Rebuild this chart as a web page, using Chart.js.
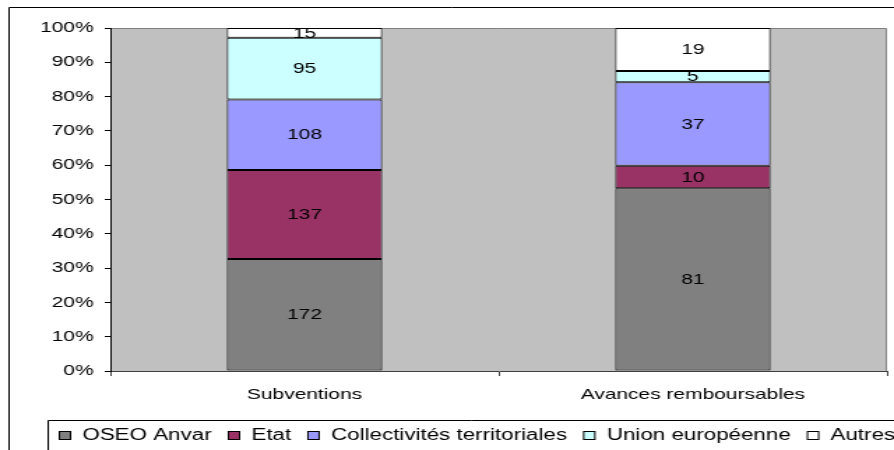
<!DOCTYPE html>
<html><head><meta charset="utf-8">
<script src="https://cdn.jsdelivr.net/npm/chart.js@4"></script>
<style>
html,body{margin:0;padding:0;background:#fff;overflow:hidden}
#wrap{width:640px;height:450px;transform:scaleX(1.396875);transform-origin:0 0;}
canvas{display:block}
</style></head><body>
<div id="wrap"><canvas id="c" width="640" height="450" style="width:640px;height:450px"></canvas></div>
<script>
// ---- data ----
const categories = ['Subventions', 'Avances remboursables'];
const seriesNames = ['OSEO Anvar', 'Etat', 'Collectivités territoriales', 'Union européenne', 'Autres'];
const oseoAnvar = [172, 81];
const etat = [137, 10];
const collectivites = [108, 37];
const unionEuropeenne = [95, 5];
const autres = [15, 19];
const yTickValues = [0, 10, 20, 30, 40, 50, 60, 70, 80, 90, 100];

// ---- styles ----
const seriesColors = ['#808080', '#993366', '#9999FF', '#CCFFFF', '#FFFFFF'];
const FONT = '"Liberation Sans", Arial, sans-serif';

const seriesValues = [oseoAnvar, etat, collectivites, unionEuropeenne, autres];
const totals = categories.map((_, j) => seriesValues.reduce((s, arr) => s + arr[j], 0));

const datasets = seriesValues.map((arr, i) => ({
  label: seriesNames[i],
  data: arr.map((v, j) => v / totals[j] * 100),
  counts: arr,
  backgroundColor: seriesColors[i],
  borderColor: '#000',
  borderWidth: 1,
  borderSkipped: false,
  categoryPercentage: 1,
  barPercentage: 0.4
}));

const framePlugin = {
  id: 'frame',
  beforeDraw(chart) {
    const ctx = chart.ctx, a = chart.chartArea;
    ctx.save();
    ctx.fillStyle = '#fff';
    ctx.fillRect(0, 0, chart.width, chart.height);
    // outer chart border
    ctx.strokeStyle = '#000';
    ctx.lineWidth = 1;
    ctx.beginPath();
    ctx.moveTo(6.5, 460); ctx.lineTo(6.5, 7.5); ctx.lineTo(660, 7.5);
    ctx.stroke();
    // plot area
    ctx.fillStyle = '#C0C0C0';
    ctx.fillRect(a.left, a.top, a.right - a.left, a.bottom - a.top);
    ctx.strokeStyle = '#808080';
    ctx.beginPath();
    ctx.moveTo(a.left, a.top + 0.5); ctx.lineTo(a.right - 0.5, a.top + 0.5); ctx.lineTo(a.right - 0.5, a.bottom);
    ctx.stroke();
    ctx.restore();
  },
  afterDatasetsDraw(chart) {
    const ctx = chart.ctx;
    ctx.save();
    ctx.font = '15px ' + FONT;
    ctx.fillStyle = '#000';
    ctx.textAlign = 'center';
    ctx.textBaseline = 'middle';
    chart.data.datasets.forEach((ds, i) => {
      chart.getDatasetMeta(i).data.forEach((el, j) => {
        const p = el.getProps(['x', 'y', 'base'], true);
        ctx.fillText(String(ds.counts[j]), p.x, (p.y + p.base) / 2 + 0.5);
      });
    });
    ctx.restore();
  },
  afterDraw(chart) {
    const ctx = chart.ctx;
    ctx.save();
    // legend box
    ctx.strokeStyle = '#000';
    ctx.lineWidth = 1;
    ctx.beginPath();
    ctx.moveTo(34.5, 460); ctx.lineTo(34.5, 420.5); ctx.lineTo(660, 420.5);
    ctx.stroke();
    ctx.font = '16px ' + FONT;
    ctx.textBaseline = 'middle';
    ctx.textAlign = 'left';
    let x = 42.5;
    chart.data.datasets.forEach((ds) => {
      ctx.fillStyle = ds.backgroundColor;
      ctx.fillRect(x, 431.5, 8, 8);
      ctx.strokeStyle = '#000';
      ctx.strokeRect(x, 431.5, 8, 8);
      ctx.fillStyle = '#000';
      ctx.fillText(ds.label, x + 16.5, 435.5);
      x += 16.5 + ctx.measureText(ds.label).width + 12;
    });
    ctx.restore();
  }
};

new Chart(document.getElementById('c'), {
  type: 'bar',
  data: { labels: categories, datasets },
  options: {
    responsive: false,
    animation: false,
    devicePixelRatio: 1,
    layout: { padding: { top: 28, right: 5, left: 0, bottom: 0 } },
    plugins: { legend: { display: false }, tooltip: { enabled: false } },
    scales: {
      x: {
        stacked: true,
        offset: true,
        grid: { offset: true, drawOnChartArea: false, drawTicks: true, tickLength: 5, color: '#404040', tickColor: '#404040' },
        border: { display: true, color: '#404040', width: 1 },
        ticks: { font: { family: FONT, size: 15 }, color: '#000', padding: 10, maxRotation: 0 },
        afterFit(s) { s.height = 79; }
      },
      y: {
        stacked: true,
        min: 0,
        max: 100,
        afterBuildTicks(s) { s.ticks = yTickValues.map(v => ({ value: v })); },
        ticks: { font: { family: FONT, size: 15 }, color: '#000', padding: 8, callback: v => v + '%' },
        grid: { drawOnChartArea: false, drawTicks: true, tickLength: 4, tickColor: '#000' },
        border: { display: true, color: '#000', width: 1 },
        afterFit(s) { s.width = 79; }
      }
    }
  },
  plugins: [framePlugin]
});
</script>
</body></html>
